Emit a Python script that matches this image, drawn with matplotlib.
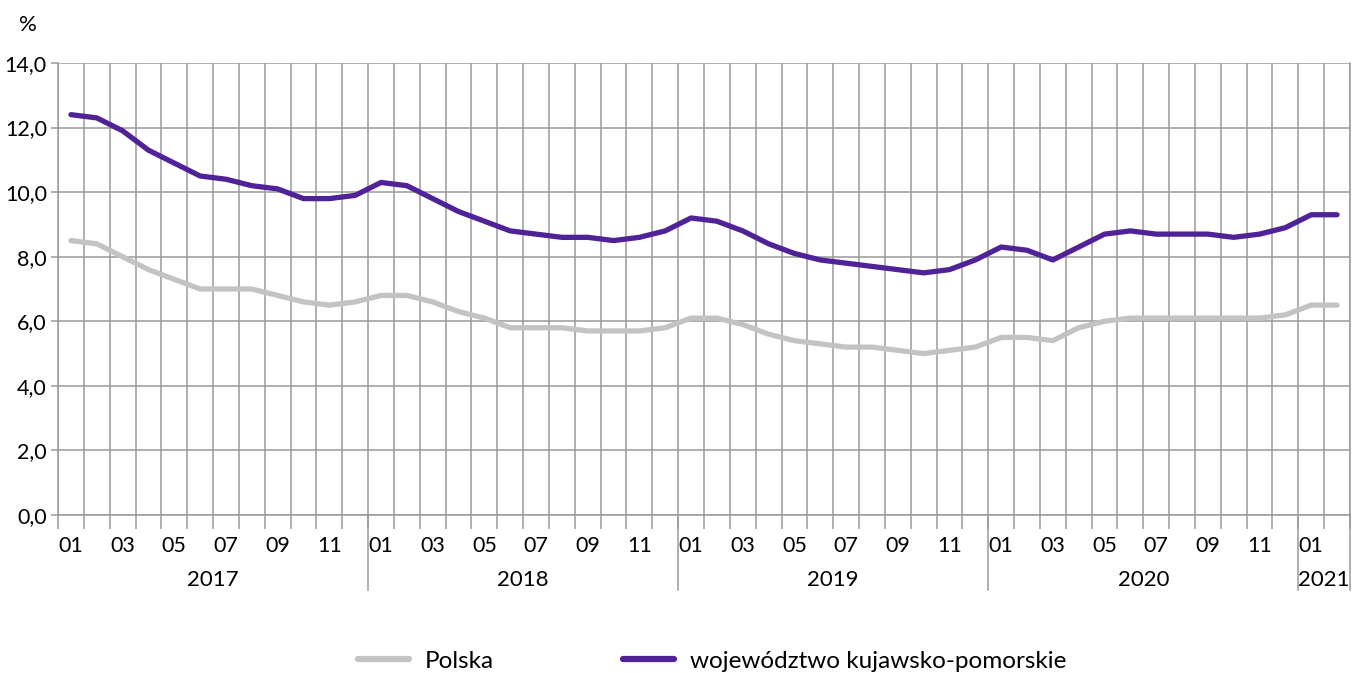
import matplotlib
matplotlib.use("Agg")
import matplotlib.pyplot as plt
import matplotlib.transforms as mtransforms
from matplotlib.lines import Line2D

plt.rcParams['font.family'] = ['Lato', 'DejaVu Sans']

years = ["2017", "2018", "2019", "2020", "2021"]
months_per_year = [12, 12, 12, 12, 2]
month_labels = ["01", "02", "03", "04", "05", "06", "07", "08", "09", "10", "11", "12"]

polska = [8.5, 8.4, 8.0, 7.6, 7.3, 7.0, 7.0, 7.0, 6.8, 6.6, 6.5, 6.6,
          6.8, 6.8, 6.6, 6.3, 6.1, 5.8, 5.8, 5.8, 5.7, 5.7, 5.7, 5.8,
          6.1, 6.1, 5.9, 5.6, 5.4, 5.3, 5.2, 5.2, 5.1, 5.0, 5.1, 5.2,
          5.5, 5.5, 5.4, 5.8, 6.0, 6.1, 6.1, 6.1, 6.1, 6.1, 6.1, 6.2,
          6.5, 6.5]
kujawsko = [12.4, 12.3, 11.9, 11.3, 10.9, 10.5, 10.4, 10.2, 10.1, 9.8, 9.8, 9.9,
            10.3, 10.2, 9.8, 9.4, 9.1, 8.8, 8.7, 8.6, 8.6, 8.5, 8.6, 8.8,
            9.2, 9.1, 8.8, 8.4, 8.1, 7.9, 7.8, 7.7, 7.6, 7.5, 7.6, 7.9,
            8.3, 8.2, 7.9, 8.3, 8.7, 8.8, 8.7, 8.7, 8.7, 8.6, 8.7, 8.9,
            9.3, 9.3]
series_names = ["Polska", "województwo kujawsko-pomorskie"]
colors = ["#c3c3c3", "#4f2297"]

W, H = 1354, 673
fig = plt.figure(figsize=(W / 100, H / 100), dpi=100)
ax = fig.add_axes([58 / W, (H - 515) / H, (1350 - 58) / W, (515 - 63) / H])

n = len(polska)
x = list(range(n))
grid_c = "#9a9a9a"

ax.set_xlim(-0.5, n - 0.5)
ax.set_ylim(0, 14)

# y axis
ax.set_yticks(range(0, 15, 2))
ax.set_yticklabels([f"{v:.1f}".replace(".", ",") for v in range(0, 15, 2)], fontsize=15.5)
ax.yaxis.grid(True, color=grid_c, linewidth=1.1)
ax.tick_params(axis='y', length=5, width=1.1, color=grid_c, pad=3)

# x axis: month boundaries as minor ticks with grid
ax.set_xticks([i - 0.5 for i in range(n + 1)], minor=True)
ax.xaxis.grid(True, which='minor', color=grid_c, linewidth=1.1)
ax.tick_params(axis='x', which='minor', length=10, width=1.1, color=grid_c)
labels = []
for y, m in zip(years, months_per_year):
    for k in range(m):
        labels.append(month_labels[k] if k % 2 == 0 else "")
ax.set_xticks(x)
ax.set_xticklabels(labels, fontsize=15.5)
ax.tick_params(axis='x', which='major', length=0, pad=15)

for s in ax.spines.values():
    s.set_color(grid_c)
    s.set_linewidth(1.1)
ax.spines['top'].set_visible(False)
ax.set_axisbelow(True)

ax.plot(x, polska, color=colors[0], linewidth=3.8, solid_capstyle='round', solid_joinstyle='round', zorder=3)
ax.plot(x, kujawsko, color=colors[1], linewidth=3.8, solid_capstyle='round', solid_joinstyle='round', zorder=4)

# year separators and labels
trans = mtransforms.blended_transform_factory(ax.transData, ax.transAxes)
ax_h = 515 - 63
start = 0
bounds = [-0.5]
for y, m in zip(years, months_per_year):
    end = start + m
    bounds.append(end - 0.5)
    ax.text((start + end - 1) / 2, -(580 - 515) / ax_h, y, transform=trans,
            ha='center', va='center', fontsize=16)
    start = end
for b in bounds[1:]:
    ax.add_line(Line2D([b, b], [0, -(590 - 515) / ax_h], transform=trans,
                       color=grid_c, linewidth=1.1, clip_on=False))

fig.text(28 / W, 1 - 25 / H, "%", fontsize=16, ha='center', va='center')

handles = [Line2D([], [], color=c, linewidth=4.5, solid_capstyle='round') for c in colors]
fig.legend(handles, series_names, loc='center', bbox_to_anchor=(712 / W, 1 - 661 / H),
           ncol=2, frameon=False, fontsize=17.5, handlelength=2.1, handletextpad=0.65,
           columnspacing=5.3)

fig.savefig("out.png", dpi=100)
